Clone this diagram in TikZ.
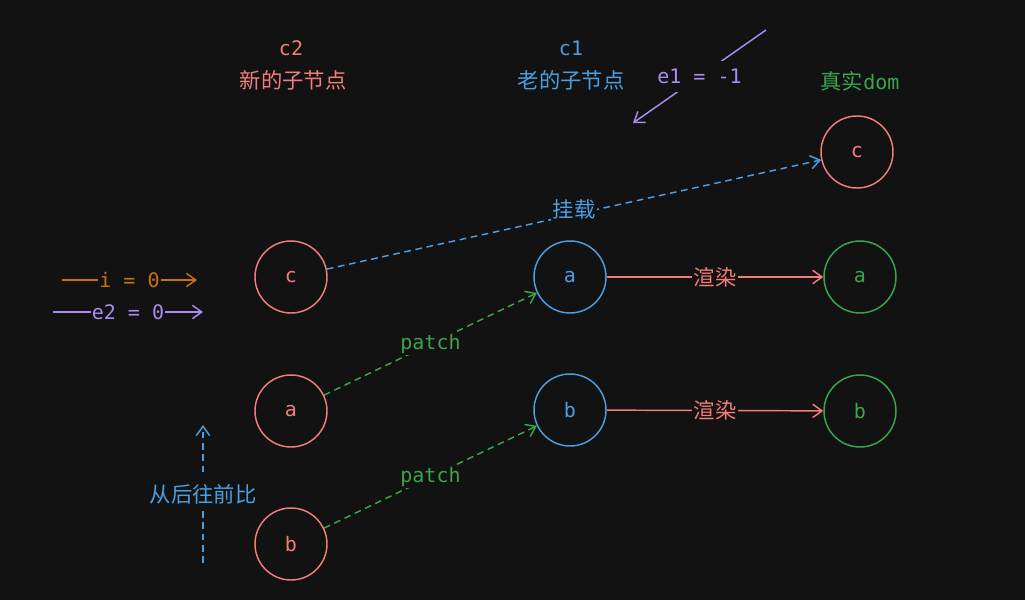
\documentclass[tikz,border=0pt]{standalone}
\usepackage{fontspec}
\newfontfamily\cjk{Noto Sans CJK SC}
\newfontfamily\mono{DejaVu Sans Mono}
\usetikzlibrary{arrows.meta}
\definecolor{bg}{HTML}{121212}
\definecolor{cred}{HTML}{F27D7B}
\definecolor{cblue}{HTML}{4A9EE3}
\definecolor{cgreen}{HTML}{3BA54B}
\definecolor{cpurple}{HTML}{A98CF2}
\definecolor{corange}{HTML}{C9700F}
\tikzset{
  circ/.style={circle,draw=#1,text=#1,line width=1.1pt,minimum size=54pt,inner sep=0pt,font=\mono\fontsize{15}{17}\selectfont},
  cjktxt/.style={text=#1,font=\cjk\fontsize{16}{19}\selectfont,inner sep=1pt},
  monotxt/.style={text=#1,font=\mono\fontsize{15}{17}\selectfont,inner sep=1pt},
  conn/.style={draw=#1,line width=1.1pt,-{Straight Barb[length=7pt,width=10pt]}},
  dsh/.style={dash pattern=on 5pt off 3.5pt},
  lblfill/.style={fill=bg,inner sep=3pt},
}
\begin{document}
\begin{tikzpicture}[x=0.75pt,y=-0.75pt]
\fill[bg] (0,0) rectangle (1025,600);
\useasboundingbox (0,0) rectangle (1025,600);

% headers
\node[monotxt=cred] (h2) at (291,48) {c2};
\node[cjktxt=cred] (h2t) at (293,80) {新的子节点};
\node[monotxt=cblue] (h1) at (571,48) {c1};
\node[cjktxt=cblue] (h1t) at (571,80) {老的子节点};
\node[cjktxt=cgreen] (hr) at (860,81) {真实{\mono\fontsize{15}{17}\selectfont dom}};

% circles
\node[circ=cred] (nc) at (291,277) {c};
\node[circ=cred] (na) at (291,411) {a};
\node[circ=cred] (nb) at (291,544) {b};
\node[circ=cblue] (oa) at (570,277) {a};
\node[circ=cblue] (ob) at (570,410) {b};
\node[circ=cred] (rc) at (857,152) {c};
\node[circ=cgreen] (ra) at (860,277) {a};
\node[circ=cgreen] (rb) at (860,411) {b};

% connectors
\draw[conn=cblue,dsh] (nc) -- node[lblfill,cjktxt=cblue,pos=0.5,yshift=4pt]{挂载} (rc);
\draw[conn=cgreen,dsh] (na) -- node[lblfill,monotxt=cgreen]{patch} (oa);
\draw[conn=cgreen,dsh] (nb) -- node[lblfill,monotxt=cgreen]{patch} (ob);
\draw[conn=cred] (oa) -- node[lblfill,cjktxt=cred]{渲染} (ra);
\draw[conn=cred] (ob) -- node[lblfill,cjktxt=cred]{渲染} (rb);

% pointers
\coordinate (is) at (62,280);
\coordinate (ie) at (197,280);
\draw[conn=corange] (is) -- node[lblfill,monotxt=corange]{i = 0} (ie);
\coordinate (es) at (53,312);
\coordinate (ee) at (203,312);
\draw[conn=cpurple] (es) -- node[lblfill,monotxt=cpurple]{e2 = 0} (ee);
\coordinate (e1s) at (766,30);
\coordinate (e1e) at (633,123);
\draw[conn=cpurple] (e1s) -- node[lblfill,monotxt=cpurple,inner sep=6pt]{e1 = -1} (e1e);

% direction
\coordinate (ds) at (203,563);
\coordinate (de) at (203,425);
\draw[conn=cblue,dsh] (ds) -- node[lblfill,cjktxt=cblue,inner sep=5pt]{从后往前比} (de);
\end{tikzpicture}
\end{document}
